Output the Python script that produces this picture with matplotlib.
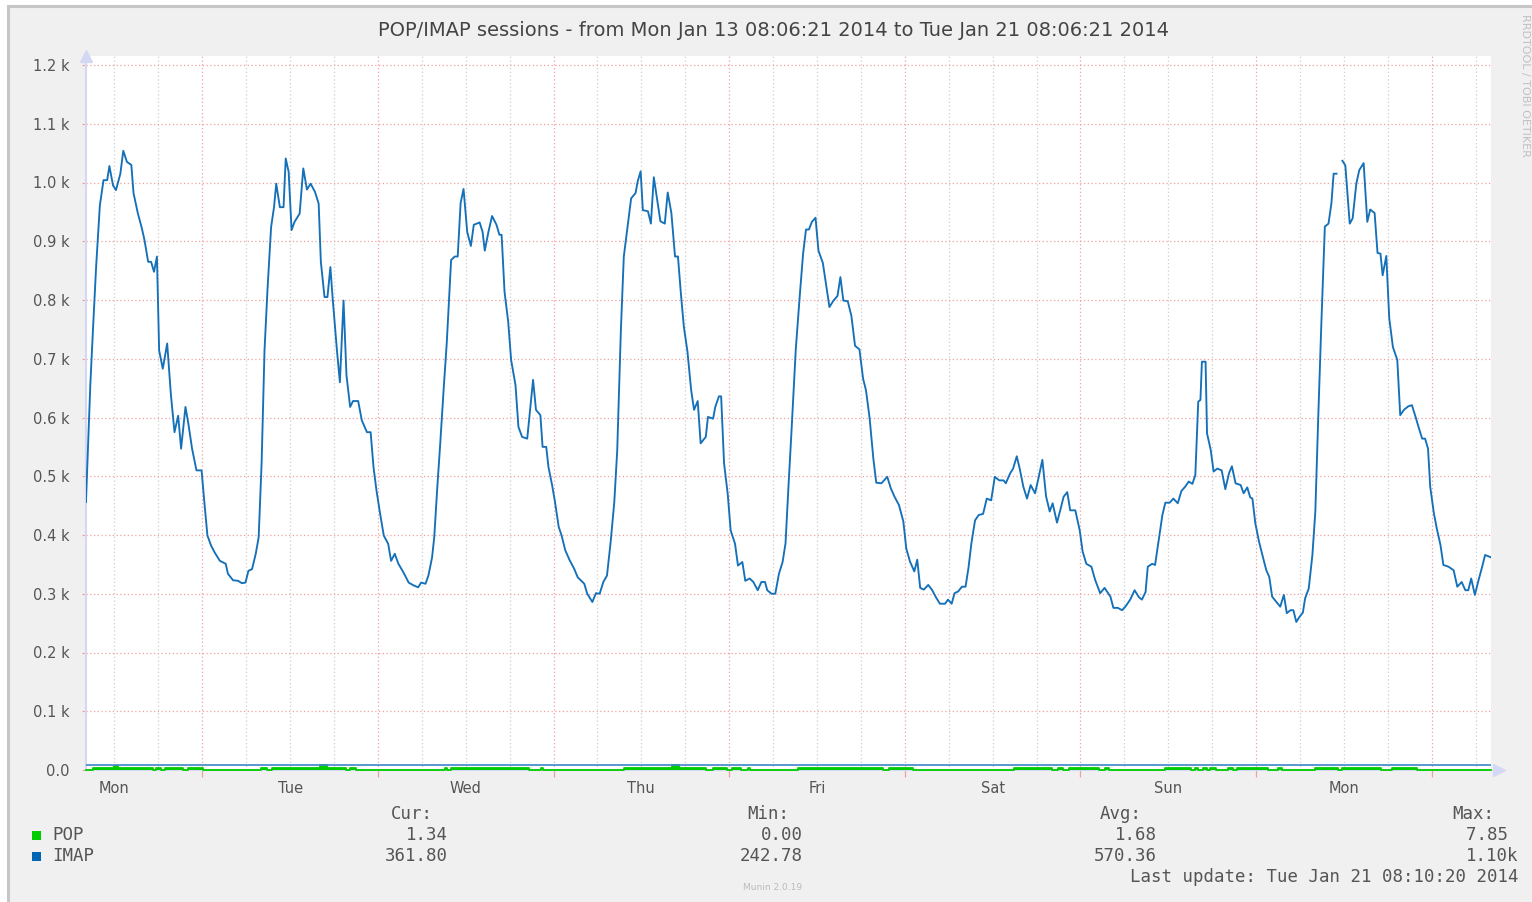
import numpy as np
import matplotlib
matplotlib.use("Agg")
import matplotlib.pyplot as plt
from matplotlib.patches import Rectangle

# hours since Mon Jan 13 00:00
imap_hours = [
    8.1, 8.7, 9.1, 9.5, 10.0, 10.5, 11.0, 11.3, 11.8, 12.2,
    12.8, 13.2, 13.7, 14.3, 14.6, 15.2, 15.7, 16.1, 16.6, 17.0,
    17.4, 17.8, 18.1, 18.6, 19.2, 19.7, 20.2, 20.7, 21.1, 21.7,
    22.1, 22.6, 23.2, 23.9, 24.3, 24.7, 25.2, 25.7, 26.4, 27.2,
    27.5, 28.2, 28.9, 29.4, 29.9, 30.3, 30.8, 31.3, 31.7, 32.1,
    32.5, 32.9, 33.4, 33.8, 34.1, 34.6, 35.1, 35.4, 35.8, 36.2,
    36.6, 37.3, 37.8, 38.3, 38.8, 39.4, 39.9, 40.2, 40.7, 41.1,
    41.5, 41.8, 42.4, 42.8, 43.3, 43.7, 44.2, 44.6, 45.3, 45.8,
    46.5, 47.0, 47.4, 47.8, 48.3, 48.8, 49.4, 49.8, 50.3, 50.8,
    51.5, 52.2, 52.9, 53.5, 53.9, 54.5, 54.9, 55.4, 55.7, 56.1,
    56.5, 57.0, 57.4, 58.0, 58.5, 58.9, 59.3, 59.7, 60.2, 60.7,
    61.1, 61.9, 62.3, 62.6, 63.1, 63.6, 64.2, 64.6, 64.9, 65.3,
    65.8, 66.2, 66.8, 67.2, 67.7, 68.4, 68.7, 69.2, 69.6, 70.2,
    70.5, 71.0, 71.3, 71.8, 72.2, 72.7, 73.1, 73.6, 74.2, 74.8,
    75.3, 76.2, 76.6, 77.3, 77.8, 78.3, 78.8, 79.3, 79.8, 80.3,
    80.7, 81.2, 81.6, 82.2, 82.6, 83.2, 83.5, 83.9, 84.2, 84.9,
    85.3, 85.7, 86.2, 86.6, 87.2, 87.6, 88.1, 88.6, 89.0, 89.4,
    89.8, 90.3, 90.8, 91.2, 91.7, 92.1, 92.8, 93.1, 93.8, 94.1,
    94.6, 94.9, 95.3, 95.8, 96.2, 96.8, 97.2, 97.8, 98.2, 98.8,
    99.3, 99.9, 100.4, 100.9, 101.2, 101.8, 102.3, 102.8, 103.3, 103.7,
    104.1, 104.5, 105.1, 105.6, 106.1, 106.5, 106.9, 107.3, 107.8, 108.2,
    108.8, 109.3, 109.7, 110.2, 110.8, 111.2, 111.6, 112.2, 112.7, 113.2,
    113.8, 114.3, 114.7, 115.2, 115.7, 116.1, 116.8, 117.6, 118.1, 118.6,
    119.2, 119.8, 120.2, 120.7, 121.3, 121.7, 122.1, 122.6, 123.2, 123.7,
    124.3, 124.8, 125.5, 125.9, 126.4, 126.8, 127.3, 127.8, 128.3, 128.7,
    129.1, 129.6, 130.1, 130.7, 131.2, 131.8, 132.3, 132.9, 133.5, 133.8,
    134.4, 134.8, 135.3, 135.7, 136.2, 136.7, 137.2, 137.8, 138.2, 138.8,
    139.3, 139.8, 140.2, 140.8, 141.3, 141.7, 142.2, 142.6, 143.3, 143.9,
    144.3, 144.8, 145.5, 146.0, 146.7, 147.3, 148.1, 148.5, 149.1, 149.7,
    150.2, 150.8, 151.4, 152.0, 152.4, 152.9, 153.2, 153.8, 154.2, 154.7,
    155.2, 155.6, 156.2, 156.7, 157.3, 157.8, 158.3, 158.8, 159.3, 159.7,
    160.1, 160.4, 160.6, 161.1, 161.3, 161.8, 162.2, 162.7, 163.3, 163.8,
    164.3, 164.7, 165.2, 165.9, 166.3, 166.8, 167.2, 167.5, 167.9, 168.4,
    168.8, 169.4, 169.8, 170.2, 170.9, 171.3, 171.8, 172.2, 172.7, 173.1,
    173.5, 173.9, 174.4, 174.7, 175.2, 175.7, 176.1, 176.5, 176.9, 177.4,
    177.9, 178.3, 178.6, 179.0, 179.4, 179.8, 180.2, 180.8, 181.2, 181.7,
    182.1, 182.7, 183.2, 183.6, 184.2, 184.6, 185.0, 185.3, 185.8, 186.2,
    186.7, 187.3, 187.7, 188.2, 188.8, 189.3, 189.8, 190.2, 190.7, 191.1,
    191.5, 191.8, 192.3, 192.7, 193.2, 193.6, 194.3, 195.0, 195.5, 196.1,
    196.6, 197.0, 197.4, 197.9, 198.4, 198.9, 199.3, 199.9, 200.1,
]
imap_sessions = [
    456, 657, 760, 859, 961, 1004, 1004, 1028, 995, 987,
    1015, 1054, 1035, 1030, 982, 947, 924, 902, 865, 865,
    848, 874, 714, 683, 726, 640, 575, 603, 547, 618,
    589, 547, 510, 510, 453, 399, 382, 370, 356, 351,
    334, 323, 322, 318, 319, 339, 342, 368, 396, 521,
    714, 816, 924, 958, 998, 958, 958, 1041, 1018, 919,
    933, 947, 1024, 988, 998, 984, 964, 865, 805, 805,
    856, 805, 714, 660, 799, 672, 618, 628, 628, 595,
    575, 575, 515, 476, 436, 399, 385, 356, 368, 351,
    336, 319, 314, 311, 319, 317, 331, 362, 397, 479,
    553, 652, 726, 868, 874, 874, 965, 989, 916, 892,
    928, 932, 916, 884, 916, 943, 928, 911, 911, 814,
    763, 698, 655, 584, 567, 564, 601, 664, 613, 604,
    550, 550, 516, 485, 456, 414, 399, 374, 357, 343,
    328, 317, 300, 286, 301, 300, 320, 331, 388, 456,
    544, 749, 874, 934, 973, 982, 1002, 1019, 953, 951,
    930, 1009, 968, 934, 930, 983, 948, 874, 874, 811,
    755, 712, 647, 613, 628, 556, 567, 601, 598, 618,
    636, 636, 522, 470, 408, 385, 348, 354, 322, 326,
    320, 306, 320, 320, 306, 300, 300, 334, 354, 386,
    482, 573, 716, 800, 879, 920, 920, 933, 940, 884,
    863, 822, 788, 798, 807, 839, 799, 798, 773, 722,
    716, 666, 646, 598, 530, 489, 488, 499, 479, 465,
    451, 423, 377, 355, 338, 358, 310, 307, 315, 307,
    293, 283, 283, 290, 283, 301, 304, 312, 312, 344,
    386, 425, 434, 436, 462, 459, 499, 493, 493, 488,
    505, 513, 534, 513, 482, 462, 485, 471, 493, 528,
    466, 440, 454, 421, 445, 465, 473, 442, 442, 408,
    372, 351, 346, 324, 301, 310, 295, 276, 276, 272,
    279, 290, 306, 294, 290, 303, 346, 351, 349, 391,
    434, 455, 455, 462, 454, 475, 482, 491, 487, 502,
    627, 630, 695, 695, 573, 545, 508, 513, 510, 478,
    505, 517, 488, 485, 471, 481, 464, 462, 420, 389,
    369, 340, 329, 295, 284, 278, 298, 267, 272, 272,
    252, 260, 268, 292, 309, 366, 440, 601, 752, 925,
    930, 965, 1015, 1015, np.nan, 1037, 1029, 930, 939, 998,
    1021, 1033, 933, 954, 948, 880, 879, 842, 875, 769,
    720, 698, 604, 613, 619, 621, 601, 584, 564, 564,
    547, 482, 437, 411, 383, 349, 346, 340, 312, 320,
    306, 306, 326, 298, 323, 346, 366, 363, 362,
]

# POP sessions: change points (steps)
pop_hours = [
    8.1, 9.0, 12.0, 12.5, 17.2, 17.7, 18.3, 18.9, 21.4, 22.1, 24.1, 32.0,
    32.9, 33.5, 40.1, 41.1, 43.6, 44.2, 45.0, 57.1, 57.4, 58.0, 68.7, 70.3,
    70.6, 81.6, 88.2, 89.1, 92.9, 93.8, 95.7, 96.4, 97.6, 98.6, 98.9, 105.4,
    117.0, 117.9, 121.1, 134.9, 140.1, 141.0, 141.6, 142.4, 146.5, 147.4, 147.9, 155.6,
    159.1, 159.6, 160.0, 160.8, 161.3, 161.7, 162.5, 164.1, 164.9, 165.4, 169.6, 171.0,
    171.5, 176.0, 179.2, 179.8, 185.1, 186.6, 190.0, 200.1,
]
pop_sessions = [
    0, 3, 7, 3, 0, 3, 0, 3, 0, 3, 0, 3,
    0, 3, 8, 3, 0, 3, 0, 3, 0, 3, 0, 3,
    0, 3, 8, 3, 0, 3, 0, 3, 0, 3, 0, 3,
    0, 3, 0, 3, 0, 3, 0, 3, 0, 3, 0, 3,
    0, 3, 0, 3, 0, 3, 0, 3, 0, 3, 0, 3,
    0, 3, 0, 3, 0, 3, 0, 0,
]
imap_floor = 8.5

y_ticks = [0, 100, 200, 300, 400, 500, 600, 700, 800, 900, 1000, 1100, 1200]
y_labels = ["0.0", "0.1 k", "0.2 k", "0.3 k", "0.4 k", "0.5 k", "0.6 k",
            "0.7 k", "0.8 k", "0.9 k", "1.0 k", "1.1 k", "1.2 k"]
day_hours = [12, 36, 60, 84, 108, 132, 156, 180]
day_labels = ["Mon", "Tue", "Wed", "Thu", "Fri", "Sat", "Sun", "Mon"]
midnights = [24, 48, 72, 96, 120, 144, 168, 192]

legend_names = ["POP", "IMAP"]
legend_colors = ["#00cc00", "#0066b3"]
cur_vals = ["1.34", "361.80"]
min_vals = ["0.00", "242.78"]
avg_vals = ["1.68", "570.36"]
max_vals = ["7.85 ", "1.10k"]

t_start, t_end = 8.106, 200.106

W, H = 1532, 902
def fx(px):
    return px / W
def fy(py):
    return 1 - py / H

fig = plt.figure(figsize=(W / 100, H / 100), dpi=100, facecolor="white")
fig.add_artist(Rectangle((fx(8), -0.02), 1.05, fy(6) + 0.02, transform=fig.transFigure,
                         facecolor="#f0f0f0", edgecolor="#c6c6c6", lw=2.2, zorder=-5))

ax = fig.add_axes([fx(86), fy(770), fx(1491) - fx(86), fy(56) - fy(770)])
ax.set_zorder(2)
ax.set_facecolor("white")
ax.set_xlim(t_start, t_end)
ax.set_ylim(0, 714 / 0.5875)

# grid
for h in np.arange(12, 200, 6):
    if h % 24 == 0:
        ax.axvline(h, color="#f0a0a0", lw=0.9, ls=(0, (1, 2)), zorder=1)
    else:
        ax.axvline(h, color="#cfcfcf", lw=0.9, ls=(0, (1, 2)), zorder=1)
for v in y_ticks[1:]:
    ax.axhline(v, color="#f0a0a0", lw=0.9, ls=(0, (1, 2)), zorder=1)

for s in ["top", "right"]:
    ax.spines[s].set_visible(False)
for s in ["left", "bottom"]:
    ax.spines[s].set_color("#d4d8f4")
    ax.spines[s].set_linewidth(1.5)
ax.plot([0], [1.0], marker="^", color="#d4d8f4", ms=8, transform=ax.transAxes, clip_on=False)
ax.plot([1.006], [0], marker=">", color="#d4d8f4", ms=8, transform=ax.transAxes, clip_on=False)

ax.fill_between(pop_hours, 0, pop_sessions, step="post", color="#00cc00", lw=0, zorder=3, clip_on=False)
ax.plot(pop_hours, pop_sessions, color="#00cc00", lw=1.3, drawstyle="steps-post", zorder=3, clip_on=False)
ax.axhline(imap_floor, color="#3d86c8", lw=1.2, zorder=3)
ax.plot(imap_hours, imap_sessions, color="#1470b8", lw=1.35, zorder=4)

ax.set_yticks(y_ticks)
ax.set_yticklabels(y_labels)
ax.set_xticks(day_hours)
ax.set_xticklabels(day_labels)
ax.set_xticks(midnights, minor=True)
ax.tick_params(axis="y", length=3, color="#f0a0a0", pad=9, labelsize=10.5, labelcolor="#555555")
ax.tick_params(axis="x", which="major", length=0, pad=8, labelsize=10.5, labelcolor="#555555")
ax.tick_params(axis="x", which="minor", length=5, color="#f0a0a0", width=0.9)

fig.text(fx(773), fy(30), "POP/IMAP sessions - from Mon Jan 13 08:06:21 2014 to Tue Jan 21 08:06:21 2014",
         ha="center", va="center", fontsize=14, color="#444444")

mono = dict(family="DejaVu Sans Mono", fontsize=12.5, color="#555555", va="center")
fig.text(fx(433), fy(814), "Cur:", ha="right", **mono)
fig.text(fx(789), fy(814), "Min:", ha="right", **mono)
fig.text(fx(1142), fy(814), "Avg:", ha="right", **mono)
fig.text(fx(1494), fy(814), "Max:", ha="right", **mono)
for i, (name, col) in enumerate(zip(legend_names, legend_colors)):
    y = 835 + 21 * i
    fig.add_artist(Rectangle((fx(32), fy(y + 5)), 9 / W, 9 / H, transform=fig.transFigure,
                             facecolor=col, edgecolor="none"))
    fig.text(fx(52), fy(y), name, ha="left", **mono)
    fig.text(fx(448), fy(y), cur_vals[i], ha="right", **mono)
    fig.text(fx(803), fy(y), min_vals[i], ha="right", **mono)
    fig.text(fx(1157), fy(y), avg_vals[i], ha="right", **mono)
    fig.text(fx(1518), fy(y), max_vals[i], ha="right", **mono)
fig.text(fx(1518), fy(877), "Last update: Tue Jan 21 08:10:20 2014", ha="right", **mono)

fig.text(fx(773), fy(888), "Munin 2.0.19", ha="center", va="center", fontsize=6.5, color="#bbbbbb")
fig.text(fx(1525), fy(14), "RRDTOOL / TOBI OETIKER", rotation=270, ha="center", va="top",
         fontsize=8, color="#c0c0c0")

fig.savefig("out.png", dpi=100, facecolor=fig.get_facecolor())
